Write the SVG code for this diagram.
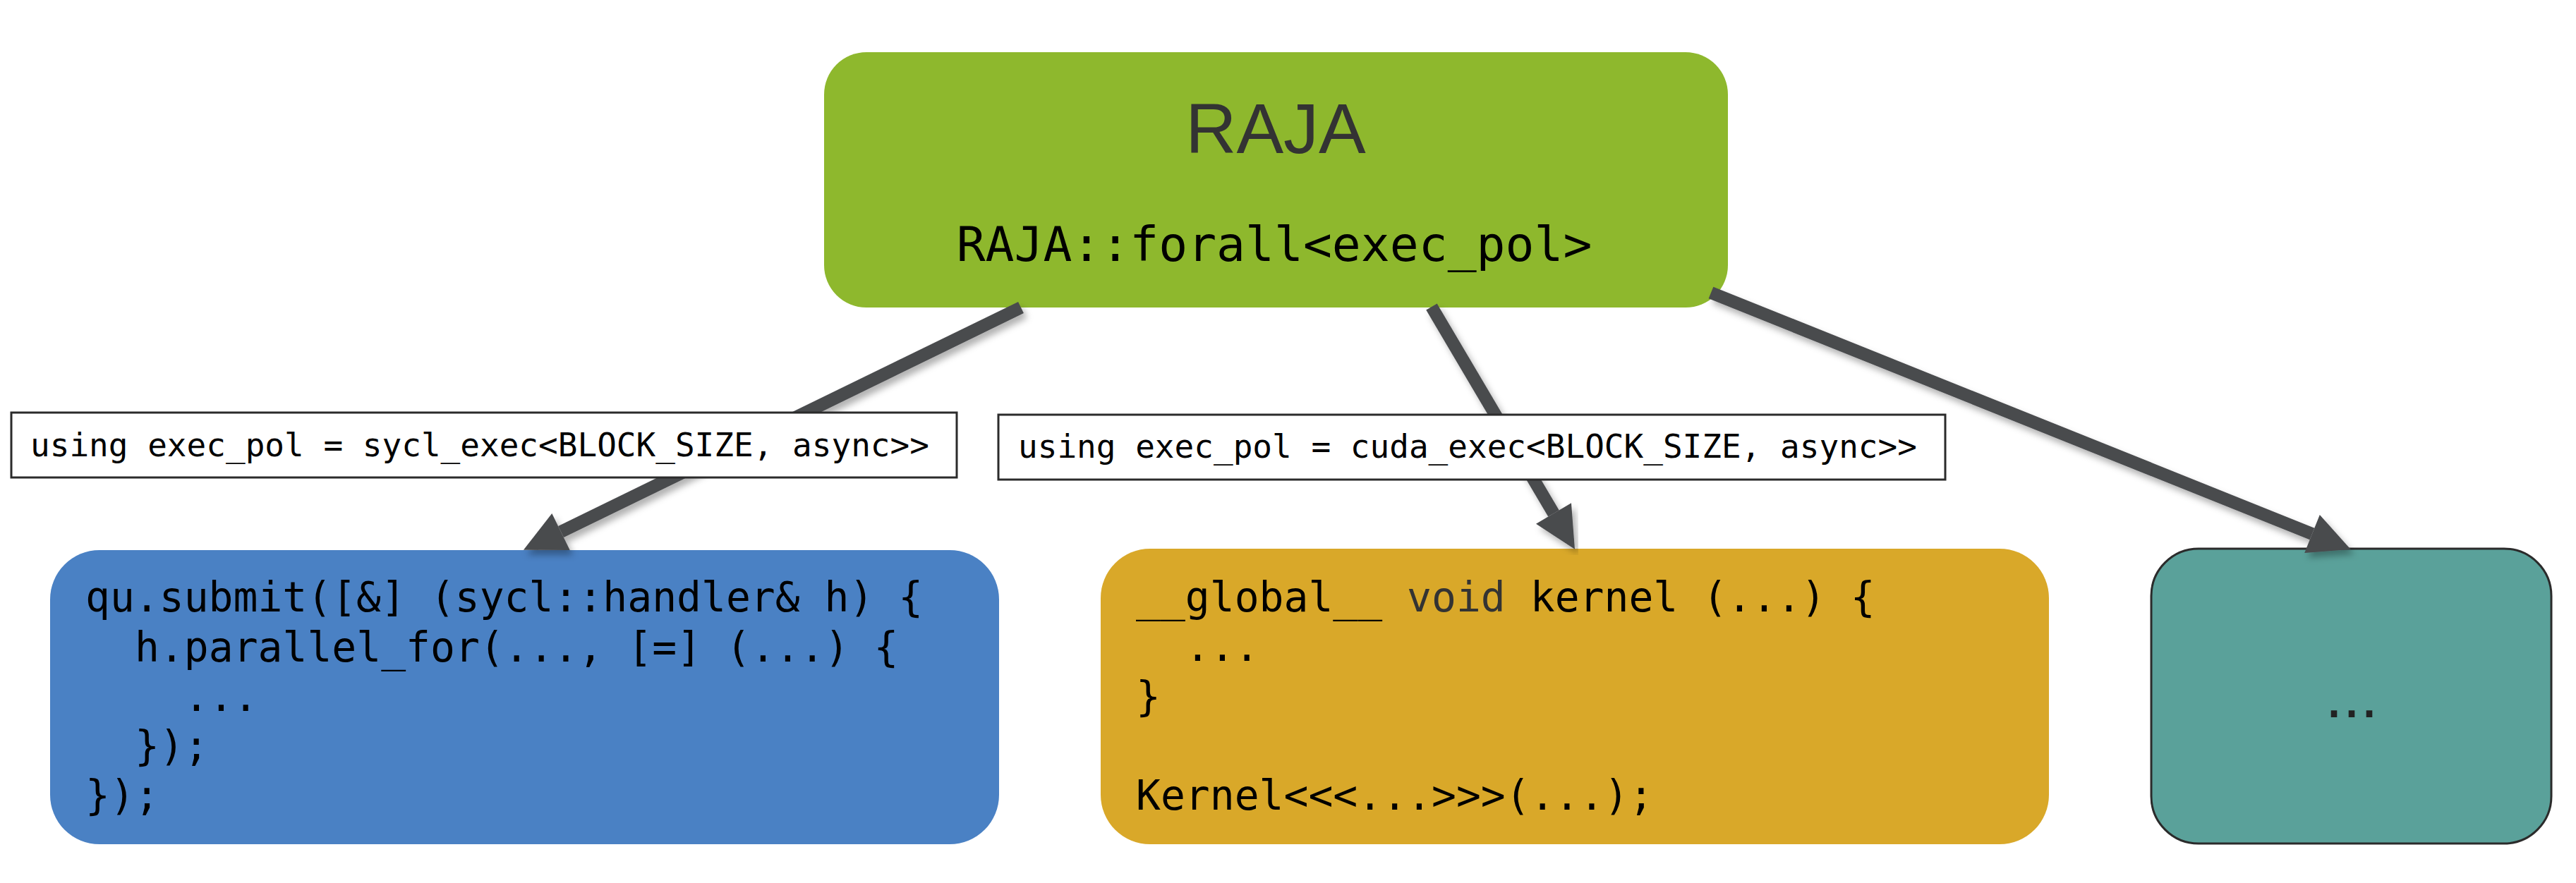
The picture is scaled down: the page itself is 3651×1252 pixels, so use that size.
<svg xmlns="http://www.w3.org/2000/svg" width="3651" height="1252" viewBox="0 0 3651 1252">
  <style>
    .code { font-family: "DejaVu Sans Mono", "Liberation Mono", monospace; fill: #000; }
    .box58 { font-size: 58px; }
    .lbl { font-family: "DejaVu Sans Mono", "Liberation Mono", monospace; font-size: 46px; fill: #000; }
    .label-box { fill: #fff; stroke: #2b2b2b; stroke-width: 3; }
    .conn { fill: none; stroke: #4a4b4e; stroke-width: 18; marker-end: url(#arrow); filter: url(#shadow); }
  </style>
  <defs>
    <marker id="arrow" viewBox="0 0 59 58" markerWidth="59" markerHeight="58" refX="0" refY="29" orient="auto" markerUnits="userSpaceOnUse" overflow="visible">
      <path d="M0,0 L59,29 L0,58 Z" fill="#4a4b4e"/>
    </marker>
    <filter id="shadow" x="-20%" y="-20%" width="140%" height="140%">
      <feDropShadow dx="5" dy="7" stdDeviation="5" flood-color="#000" flood-opacity="0.3"/>
    </filter>
  </defs>
  <rect width="3651" height="1252" fill="#fff"/>

  <g id="node-raja">
    <rect x="1168" y="74" width="1281" height="362" rx="60" ry="60" fill="#8eb82d"/>
    <text x="1808" y="217" text-anchor="middle" font-family="'Liberation Sans', Arial, sans-serif" font-size="100" fill="#333">RAJA</text>
    <text class="code" x="1806" y="370" text-anchor="middle" font-size="68">RAJA::forall&lt;exec_pol&gt;</text>
  </g>

  <g id="node-sycl">
    <rect x="71" y="780" width="1345" height="417" rx="70" ry="70" fill="#4a81c4"/>
    <text class="code box58">
      <tspan x="121" y="867">qu.submit([&amp;] (sycl::handler&amp; h) {</tspan>
      <tspan x="191" y="938">h.parallel_for(..., [=] (...) {</tspan>
      <tspan x="261" y="1008">...</tspan>
      <tspan x="191" y="1078">});</tspan>
      <tspan x="121" y="1148">});</tspan>
    </text>
  </g>

  <g id="node-cuda">
    <rect x="1560" y="778" width="1344" height="419" rx="70" ry="70" fill="#d9a829"/>
    <text class="code box58">
      <tspan x="1610" y="867">__global__ <tspan fill="#333">void</tspan> kernel (...) {</tspan>
      <tspan x="1680" y="937">...</tspan>
      <tspan x="1610" y="1008">}</tspan>
      <tspan x="1610" y="1148">Kernel&lt;&lt;&lt;...&gt;&gt;&gt;(...);</tspan>
    </text>
  </g>

  <g id="node-other">
    <rect x="3049" y="778" width="567" height="418" rx="67" ry="67" fill="#5aa19a" stroke="#2b2b2b" stroke-width="3"/>
    <text x="3333" y="1017" text-anchor="middle" font-family="'Liberation Sans', Arial, sans-serif" font-size="90" fill="#222">...</text>
  </g>

  <g id="connectors">
    <path class="conn" d="M1447,436 L795,754"/>
    <path class="conn" d="M2029,435 L2202,728"/>
    <path class="conn" d="M2425,415 L3277,757"/>
  </g>

  <g id="label-sycl">
    <rect class="label-box" x="16" y="585" width="1340" height="92"/>
    <text class="lbl" x="43" y="647">using exec_pol = sycl_exec&lt;BLOCK_SIZE, async&gt;&gt;</text>
  </g>

  <g id="label-cuda">
    <rect class="label-box" x="1415" y="588" width="1342" height="92"/>
    <text class="lbl" x="1443" y="649">using exec_pol = cuda_exec&lt;BLOCK_SIZE, async&gt;&gt;</text>
  </g>
</svg>
